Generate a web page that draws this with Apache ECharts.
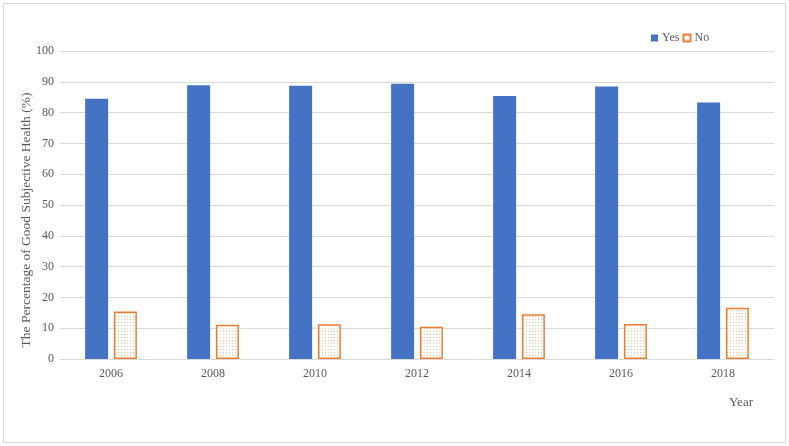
<!DOCTYPE html>
<html>
<head>
<meta charset="utf-8">
<script src="https://cdn.jsdelivr.net/npm/echarts@6/dist/echarts.min.js"></script>
<style>
html,body{margin:0;padding:0;background:#fff;}
#c{width:789px;height:446px;}
</style>
</head>
<body>
<div id="c"></div>
<script>
const years = ['2006','2008','2010','2012','2014','2016','2018'];
const yesValues = [84.5, 88.9, 88.7, 89.4, 85.4, 88.5, 83.3];
const noValues = [15.4, 11.1, 11.3, 10.5, 14.5, 11.4, 16.6];
const seriesNames = ['Yes', 'No'];

const FONT = '"Liberation Serif", "Times New Roman", serif';

// dotted pattern for the "No" bars
const pc = document.createElement('canvas');
pc.width = 6; pc.height = 6;
const px = pc.getContext('2d');
px.fillStyle = '#ffffff';
px.fillRect(0, 0, 6, 6);
px.fillStyle = 'rgba(237,125,49,0.45)';
px.fillRect(1, 1, 1, 1);
px.fillRect(4, 1, 1, 1);
px.fillRect(1, 4, 1, 1);
px.fillRect(4, 4, 1, 1);

const chart = echarts.init(document.getElementById('c'));
chart.setOption({
  backgroundColor: '#ffffff',
  animation: false,
  textStyle: { fontFamily: FONT },
  grid: { left: 60, right: 15, top: 51, bottom: 87, containLabel: false },
  legend: {
    data: seriesNames,
    left: 646,
    top: 27,
    itemWidth: 7,
    itemHeight: 7,
    itemGap: 3,
    icon: 'rect',
    textStyle: { fontFamily: FONT, fontSize: 12, color: '#595959', padding: [0, 0, 0, -1] }
  },
  xAxis: {
    type: 'category',
    data: years,
    axisLine: { show: true, lineStyle: { color: '#d9d9d9', width: 1 } },
    axisTick: { show: false },
    axisLabel: { fontFamily: FONT, fontSize: 12, color: '#595959', margin: 9 }
  },
  yAxis: {
    type: 'value',
    min: 0,
    max: 100,
    interval: 10,
    axisLine: { show: false },
    axisTick: { show: false },
    splitLine: { lineStyle: { color: '#d9d9d9', width: 1 } },
    axisLabel: { fontFamily: FONT, fontSize: 12, color: '#595959', margin: 6 }
  },
  graphic: [
    {
      type: 'rect',
      shape: { x: 3.5, y: 3.5, width: 782, height: 439 },
      style: { fill: 'none', stroke: '#d9d9d9', lineWidth: 1 },
      silent: true
    },
    {
      type: 'text',
      x: 26,
      y: 220,
      rotation: Math.PI / 2,
      style: {
        text: 'The Percentage of Good Subjective Health (%)',
        fontFamily: FONT,
        fontSize: 13.5,
        fill: '#595959',
        textAlign: 'center',
        textVerticalAlign: 'middle'
      }
    },
    {
      type: 'text',
      x: 741,
      y: 403,
      style: {
        text: 'Year',
        fontFamily: FONT,
        fontSize: 13,
        fill: '#595959',
        textAlign: 'center',
        textVerticalAlign: 'middle'
      }
    }
  ],
  series: [
    {
      name: seriesNames[0],
      type: 'bar',
      data: yesValues,
      barWidth: 23,
      barGap: '25%',
      itemStyle: { color: '#4472C4' }
    },
    {
      name: seriesNames[1],
      type: 'bar',
      data: noValues,
      barWidth: 23,
      barGap: '25%',
      itemStyle: {
        color: { image: pc, repeat: 'repeat' },
        borderColor: '#ED7D31',
        borderWidth: 1.5
      }
    }
  ]
});
</script>
</body>
</html>
